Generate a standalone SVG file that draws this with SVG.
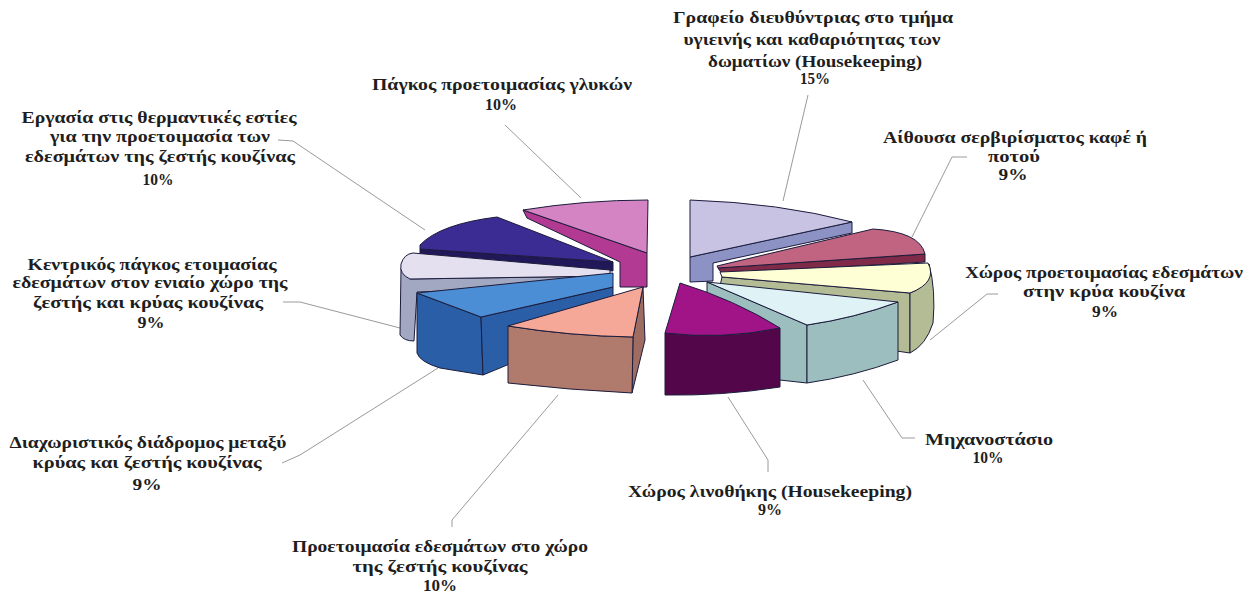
<svg xmlns="http://www.w3.org/2000/svg" width="1257" height="595" viewBox="0 0 1257 595">
<style>
.s{stroke:#1c1c3c;stroke-width:1;stroke-linejoin:round}
.l{fill:none;stroke:#9a9a9a;stroke-width:1}
text{font-family:"Liberation Serif","Times New Roman",serif;font-weight:bold;font-size:16px;fill:#1e1e1e;text-anchor:middle}
</style>
<rect width="1257" height="595" fill="#ffffff"/>
<g id="connectors">
<polyline class="l" points="808,95 783,201"/>
<polyline class="l" points="967,157 952,157 912,237"/>
<polyline class="l" points="998,294 987,294 930,340"/>
<polyline class="l" points="863,380 902,438 915,438"/>
<polyline class="l" points="728,397 768,460 768,472"/>
<polyline class="l" points="558,395 452,520 452,527"/>
<polyline class="l" points="282,463 300,455 438,368"/>
<polyline class="l" points="283,302 300,302 400,328"/>
<polyline class="l" points="278,140 293,141 425,230"/>
<polyline class="l" points="505,125 581,198"/>
</g>
<g id="grafeio">
<path class="s" fill="#8C92C4" d="M690,257 L852,222 L852,233 L713,263 L713,281 L690,282 Z"/>
<path class="s" fill="#C8C3E2" d="M690,200 Q780,203 852,222 L690,257 Z"/>
<text x="813" y="23" textLength="280" lengthAdjust="spacingAndGlyphs">Γραφείο διευθύντριας στο τμήμα</text>
<text x="812" y="45" textLength="257" lengthAdjust="spacingAndGlyphs">υγιεινής και καθαριότητας των</text>
<text x="815" y="67" textLength="214" lengthAdjust="spacingAndGlyphs">δωματίων (Housekeeping)</text>
<text x="815" y="84" textLength="30" lengthAdjust="spacingAndGlyphs">15%</text>
</g>
<g id="aithousa">
<path class="s" fill="#7E2A48" d="M718,268 L925,254 L925,262 L722,274 Z"/>
<path class="s" fill="#C06482" d="M717,266 L873,229 Q920,232 925,254 L718,268 Z"/>
<text x="1015" y="143" textLength="264" lengthAdjust="spacingAndGlyphs">Αίθουσα σερβιρίσματος καφέ ή</text>
<text x="1014" y="162" textLength="52" lengthAdjust="spacingAndGlyphs">ποτού</text>
<text x="1013" y="180" textLength="29" lengthAdjust="spacingAndGlyphs">9%</text>
</g>
<g id="krya-kouzina">
<path class="s" fill="#B4BC96" d="M722,277 L910,293 L910,353 L890,350 L720,286 Z"/>
<path class="s" fill="#B4BC96" d="M910,293 Q932,285 929,264 Q936,290 933,323 Q926,345 910,353 Z"/>
<path class="s" fill="#FFFFD6" d="M720,272 L928,263 Q938,282 910,293 L722,277 Z"/>
<text x="1104" y="278" textLength="278" lengthAdjust="spacingAndGlyphs">Χώρος προετοιμασίας εδεσμάτων</text>
<text x="1104" y="297" textLength="162" lengthAdjust="spacingAndGlyphs">στην κρύα κουζίνα</text>
<text x="1105" y="317" textLength="26" lengthAdjust="spacingAndGlyphs">9%</text>
</g>
<g id="michanostasio">
<path class="s" fill="#9CBEBE" d="M707,282 L807,325 L807,383 L707,372 Z"/>
<path class="s" fill="#9CBEBE" d="M807,325 Q855,318 898,302 L898,360 Q855,376 807,383 Z"/>
<path class="s" fill="#DFF2F6" d="M707,282 L898,302 Q855,318 807,325 Z"/>
<text x="989" y="445" textLength="128" lengthAdjust="spacingAndGlyphs">Μηχανοστάσιο</text>
<text x="988" y="463" textLength="31" lengthAdjust="spacingAndGlyphs">10%</text>
</g>
<g id="linothiki">
<path class="s" fill="#54064A" d="M665,333 Q722,340 780,328 L780,387 Q722,396 665,395 Z"/>
<path class="s" fill="#A01488" d="M680,283 Q735,300 780,328 Q722,340 665,333 Z"/>
<text x="770" y="497" textLength="284" lengthAdjust="spacingAndGlyphs">Χώρος λινοθήκης (Housekeeping)</text>
<text x="770" y="515" textLength="24" lengthAdjust="spacingAndGlyphs">9%</text>
</g>
<g id="glyka">
<path class="s" fill="#B23A92" d="M523,210 L647,253 L647,287 L620,287 L620,262 L527,218 Z"/>
<path class="s" fill="#D484C2" d="M523,210 Q585,200 648,200 L647,253 Z"/>
<text x="502" y="90" textLength="260" lengthAdjust="spacingAndGlyphs">Πάγκος προετοιμασίας γλυκών</text>
<text x="501" y="110" textLength="32" lengthAdjust="spacingAndGlyphs">10%</text>
</g>
<g id="estia">
<path class="s" fill="#201858" d="M420,249 L613,262 L613,271 L420,257 Z"/>
<path class="s" fill="#3A2C92" d="M420,245 Q440,224 497,217 L613,262 L420,249 Z"/>
<text x="159" y="123" textLength="275" lengthAdjust="spacingAndGlyphs">Εργασία στις θερμαντικές εστίες</text>
<text x="160" y="142" textLength="220" lengthAdjust="spacingAndGlyphs">για την προετοιμασία των</text>
<text x="160" y="162" textLength="270" lengthAdjust="spacingAndGlyphs">εδεσμάτων της ζεστής κουζίνας</text>
<text x="158" y="185" textLength="31" lengthAdjust="spacingAndGlyphs">10%</text>
</g>
<g id="kentrikos">
<path class="s" fill="#A2A8C2" d="M401,268 L410,279 L610,276 L610,285 L417,292 L414,341 Q404,341 400,335 Z"/>
<path class="s" fill="#E4E0F0" d="M413,253 L610,270 L610,276 L410,279 Q399,274 401,264 Q404,254 413,253 Z"/>
<text x="152" y="270" textLength="249" lengthAdjust="spacingAndGlyphs">Κεντρικός πάγκος ετοιμασίας</text>
<text x="150" y="288" textLength="275" lengthAdjust="spacingAndGlyphs">εδεσμάτων στον ενιαίο χώρο της</text>
<text x="148" y="308" textLength="230" lengthAdjust="spacingAndGlyphs">ζεστής και κρύας κουζίνας</text>
<text x="151" y="328" textLength="27" lengthAdjust="spacingAndGlyphs">9%</text>
</g>
<g id="diadromos">
<path class="s" fill="#2A5EA6" d="M417,293 L481,317 L483,375 L440,368 Q420,362 417,353 Z"/>
<path class="s" fill="#2A5EA6" d="M481,317 L613,287 L613,320 L512,363 L483,375 Z"/>
<path class="s" fill="#4C8ED6" d="M417,293 L613,273 L613,287 L481,317 Z"/>
<text x="148" y="448" textLength="277" lengthAdjust="spacingAndGlyphs">Διαχωριστικός διάδρομος μεταξύ</text>
<text x="147" y="468" textLength="229" lengthAdjust="spacingAndGlyphs">κρύας και ζεστής κουζίνας</text>
<text x="147" y="490" textLength="29" lengthAdjust="spacingAndGlyphs">9%</text>
</g>
<g id="zesti-kouzina">
<path class="s" fill="#9E6C60" d="M633,337 L643,287 L645,340 L632,393 Z"/>
<path class="s" fill="#B07A6C" d="M508,326 Q570,336 633,337 L632,393 Q570,390 508,383 Z"/>
<path class="s" fill="#F6A898" d="M508,326 L643,287 L633,337 Q570,336 508,326 Z"/>
<text x="440" y="552" textLength="296" lengthAdjust="spacingAndGlyphs">Προετοιμασία εδεσμάτων στο χώρο</text>
<text x="440" y="572" textLength="175" lengthAdjust="spacingAndGlyphs">της ζεστής κουζίνας</text>
<text x="440" y="591" textLength="34" lengthAdjust="spacingAndGlyphs">10%</text>
</g>
</svg>
